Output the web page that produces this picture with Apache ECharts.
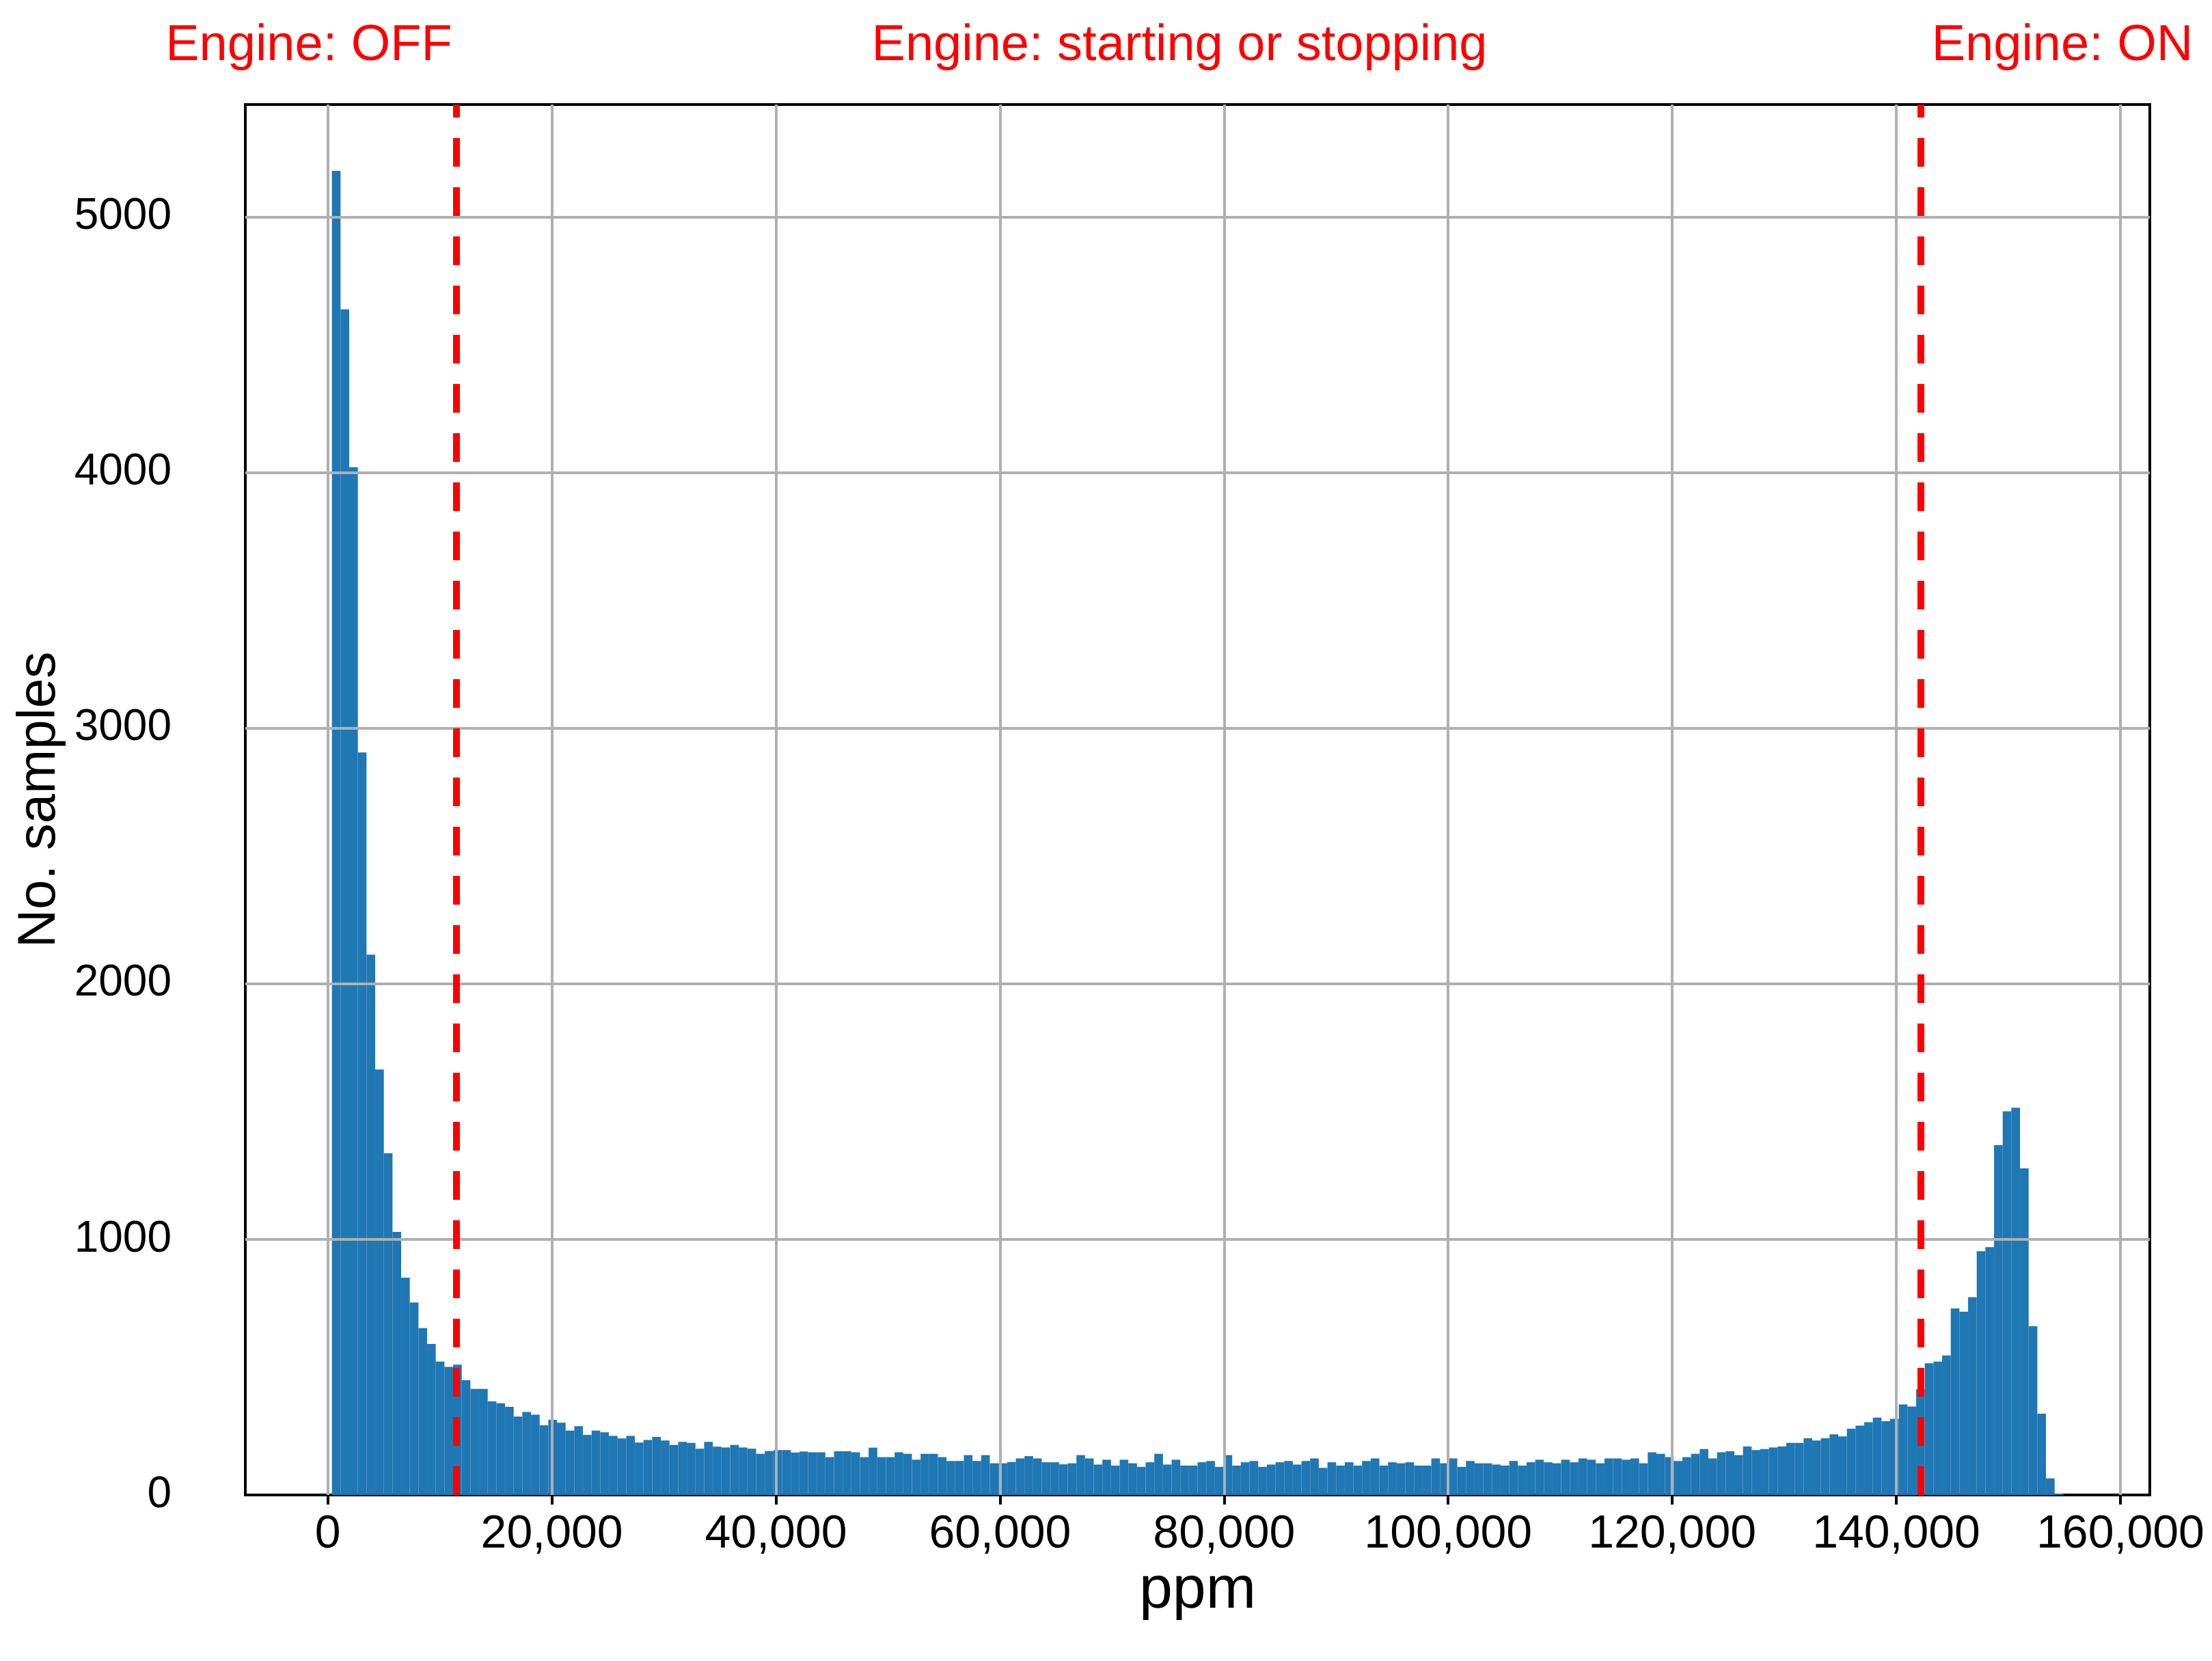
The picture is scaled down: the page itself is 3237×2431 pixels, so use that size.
<!DOCTYPE html>
<html>
<head>
<meta charset="utf-8">
<script src="https://cdn.jsdelivr.net/npm/echarts@6/dist/echarts.min.js"></script>
<style>html,body{margin:0;padding:0;background:#fff}#main{width:3237px;height:2431px}</style>
</head>
<body>
<div id="main"></div>
<script>
// histogram: 200 bins, first edge and bin width (ppm)
var binStart = 365;
var binWidth = 772.7;
var counts = [
	5181,4639,4021,2905,2114,1665,1337,1029,850,753,653,591,522,501,510,449,415,415,366,359,
	345,307,325,314,273,294,283,252,269,235,252,245,231,221,231,205,215,227,213,196,
	208,204,181,208,189,186,196,186,181,161,172,176,176,166,170,167,167,148,171,171,
	167,148,185,148,148,167,161,138,161,161,148,133,133,156,133,156,124,124,129,143,
	152,143,128,128,120,124,156,143,119,138,115,138,124,110,128,161,119,138,115,115,
	128,133,110,156,115,128,133,110,119,128,133,119,133,143,106,128,115,128,115,133,
	143,115,128,124,128,115,115,143,124,143,110,133,124,124,119,115,133,115,128,138,
	128,124,138,128,143,138,124,143,143,138,143,124,167,161,148,133,148,161,180,143,
	167,171,156,190,176,180,186,190,204,204,222,213,222,237,229,259,271,285,303,289,
	298,354,346,414,515,522,546,730,717,774,954,970,1369,1501,1515,1278,660,318,65,5
];
var xTicks = [0,20000,40000,60000,80000,100000,120000,140000,160000];
var yTicks = [0,1000,2000,3000,4000,5000];
var cutOff = 11500, cutOn = 142200;
var notes = ['Engine: OFF','Engine: starting or stopping','Engine: ON'];

var bins = [];
for (var i = 0; i < counts.length; i++) {
	bins.push([binStart + i*binWidth, binStart + (i+1)*binWidth, counts[i]]);
}
function fmt(v){ return String(v).replace(/\B(?=(\d{3})+(?!\d))/g, ','); }

var chart = echarts.init(document.getElementById('main'));
var gridLines = [];
xTicks.forEach(function(v){ gridLines.push({xAxis: v}); });
yTicks.slice(1).forEach(function(v){ gridLines.push({yAxis: v}); });

var noteFont = '74px "Liberation Sans"';
var option = {
	animation: false,
	backgroundColor: '#fff',
	grid: {left: 359, right: 91, top: 153, bottom: 243, show: true, borderColor: '#000', borderWidth: 4},
	graphic: [
		{type:'text', x: 452, y: 68, style:{text: notes[0], fill:'#ff0000', font: noteFont, align:'center', verticalAlign:'middle'}},
		{type:'text', x: 1726, y: 68, style:{text: notes[1], fill:'#ff0000', font: noteFont, align:'center', verticalAlign:'middle'}},
		{type:'text', x: 3018, y: 68, style:{text: notes[2], fill:'#ff0000', font: noteFont, align:'center', verticalAlign:'middle'}}
	],
	xAxis: {
		type: 'value', min: -7362, max: 162627,
		name: 'ppm', nameLocation: 'middle', nameGap: 82,
		nameTextStyle: {fontFamily: 'Liberation Sans', fontSize: 88, color: '#000'},
		axisLine: {show: true, onZero: false, lineStyle: {color: '#000', width: 4}},
		axisTick: {show: true, customValues: xTicks, length: 14, lineStyle: {color: '#000', width: 4}},
		axisLabel: {customValues: xTicks, formatter: function(v){ return fmt(v); }, fontFamily: 'Liberation Sans', fontSize: 68, color: '#000', margin: 24},
		splitLine: {show: false}
	},
	yAxis: {
		type: 'value', min: 0, max: 5440, interval: 1000,
		name: 'No. samples', nameLocation: 'middle', nameGap: 262,
		nameTextStyle: {fontFamily: 'Liberation Sans', fontSize: 78, color: '#000'},
		axisLine: {show: true, lineStyle: {color: '#000', width: 4}},
		axisTick: {show: true, length: 14, lineStyle: {color: '#000', width: 4}},
		axisLabel: {showMaxLabel: false, formatter: function(v){ return String(v); }, fontFamily: 'Liberation Sans', fontSize: 64, color: '#000', margin: 108},
		splitLine: {show: false}
	},
	series: [
		{
			type: 'custom',
			data: bins,
			encode: {x: [0,1], y: 2},
			renderItem: function(params, api){
				var p0 = api.coord([api.value(0), 0]);
				var p1 = api.coord([api.value(1), api.value(2)]);
				return {type: 'rect', shape: {x: p0[0], y: p1[1], width: p1[0]-p0[0], height: p0[1]-p1[1]},
					style: {fill: '#1f77b4'}};
			},
			z: 2
		},
		{
			type: 'line', data: [], z: 5,
			markLine: {silent: true, symbol: 'none', label: {show: false},
				lineStyle: {color: '#b0b0b0', width: 4, type: 'solid'}, data: gridLines}
		},
		{
			type: 'line', data: [], z: 6,
			markLine: {silent: true, symbol: 'none', label: {show: false},
				lineStyle: {color: '#ff0000', width: 10, type: [42, 30]},
				data: [{xAxis: cutOff}, {xAxis: cutOn}]}
		}
	]
};
chart.setOption(option);
</script>
</body>
</html>
